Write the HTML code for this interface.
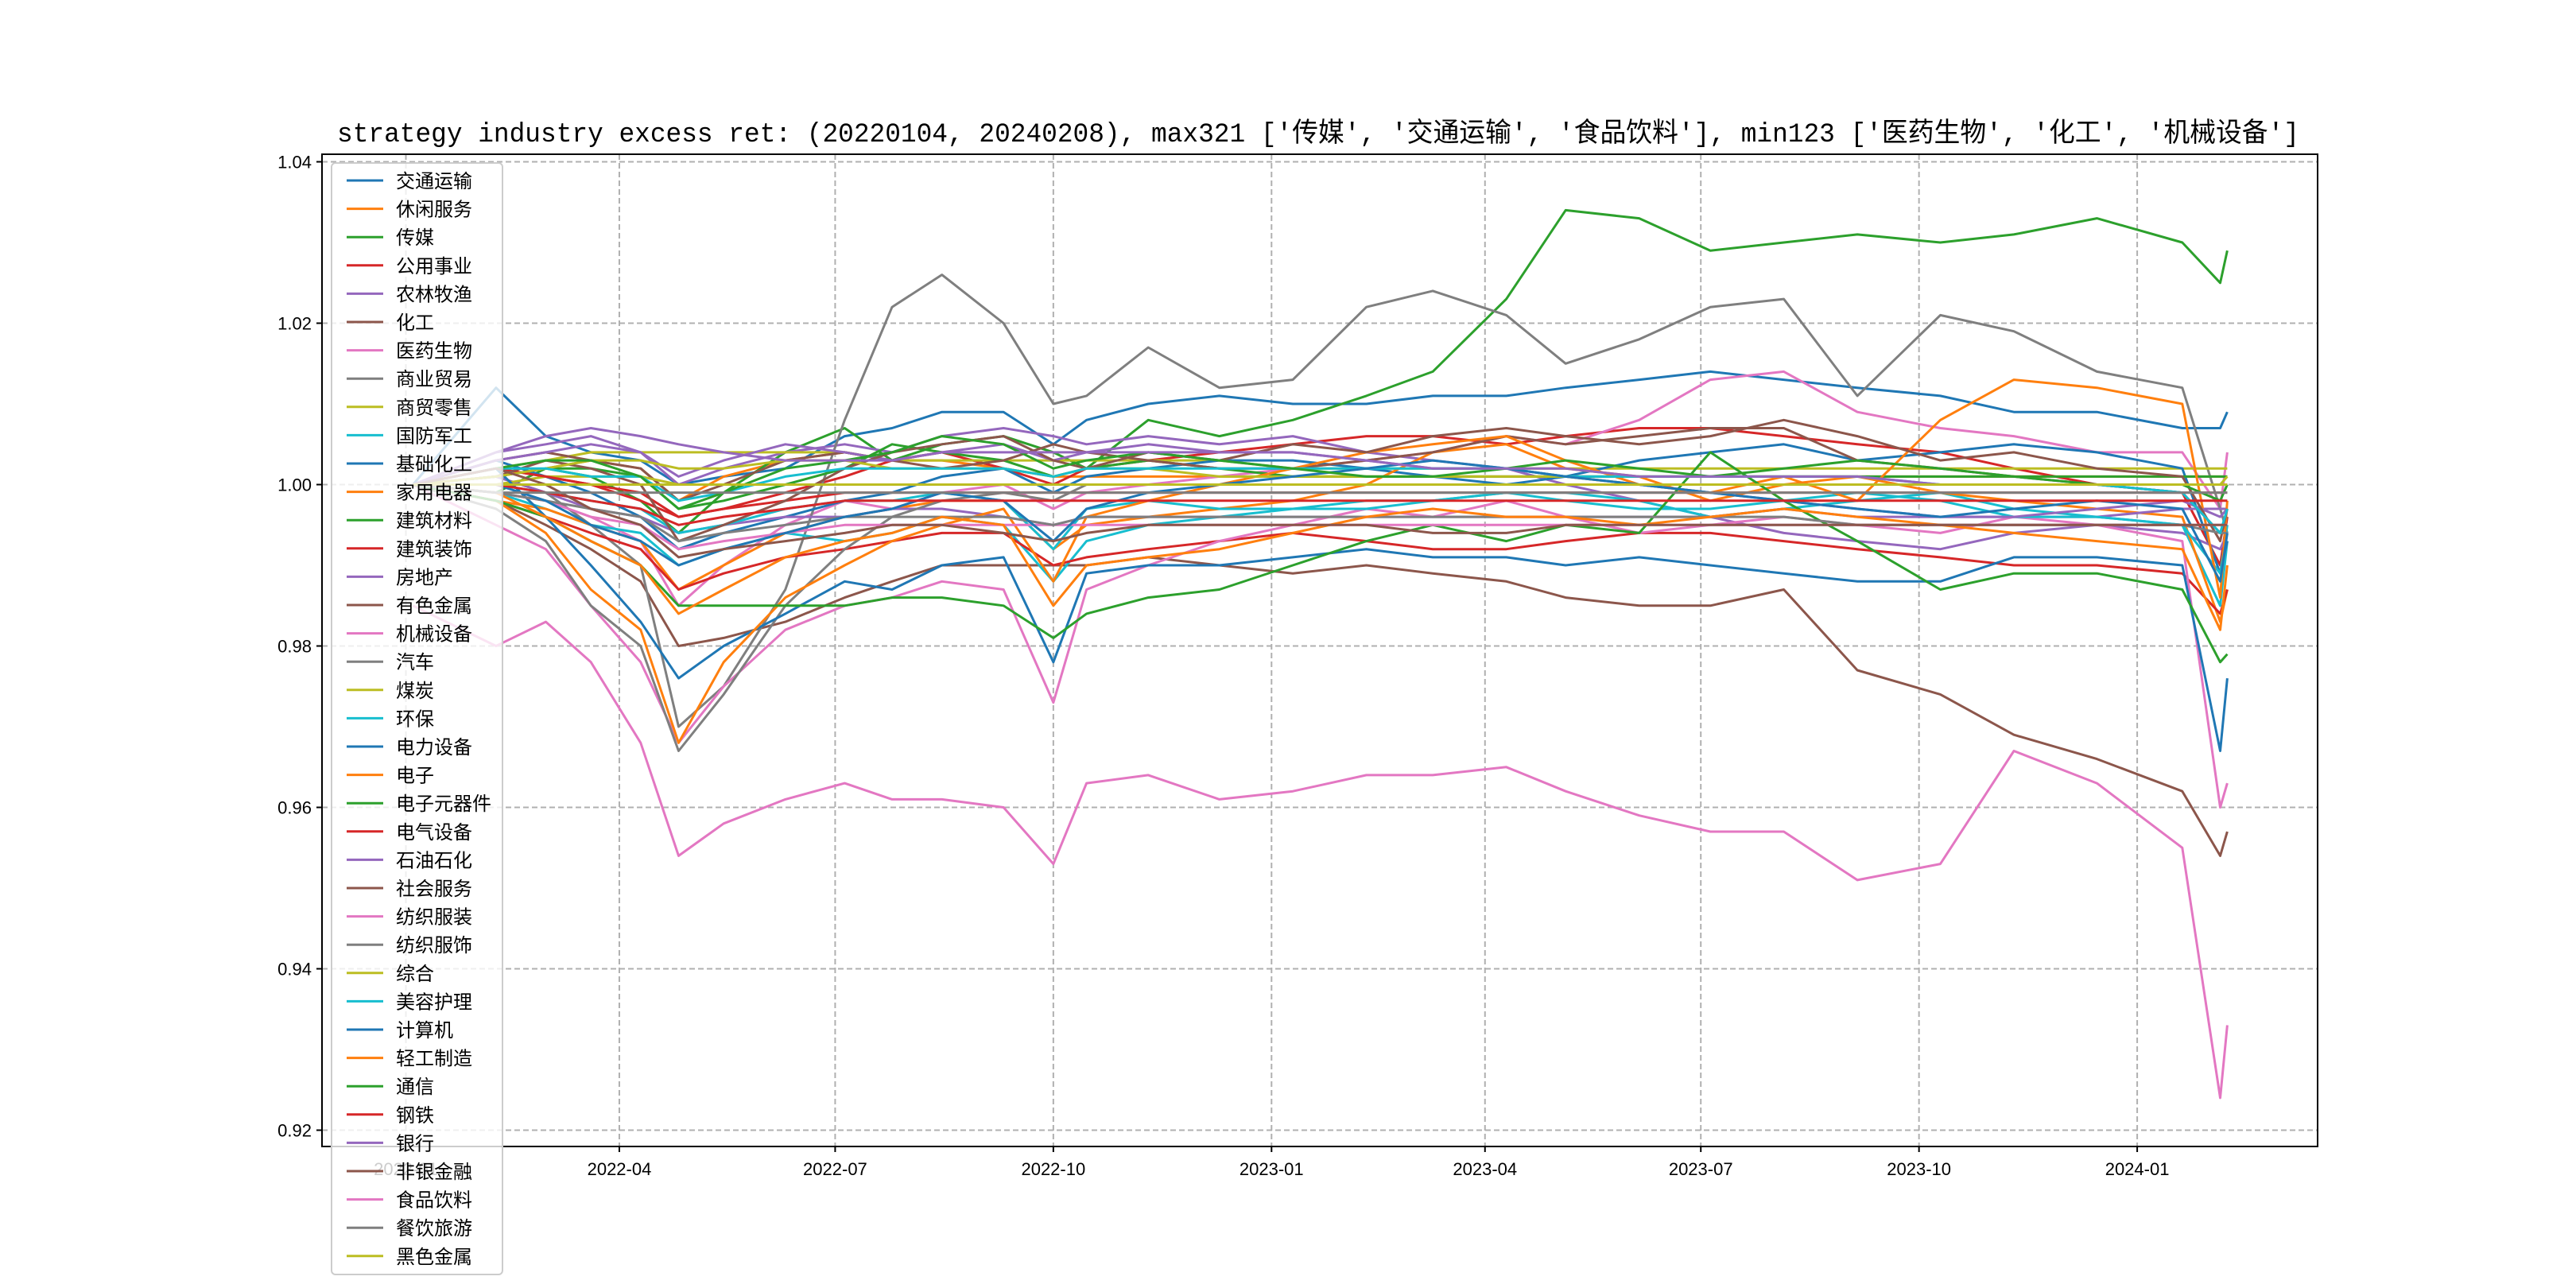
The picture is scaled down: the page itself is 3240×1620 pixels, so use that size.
<!DOCTYPE html>
<html><head><meta charset="utf-8"><style>
html,body{margin:0;padding:0;background:#fff;}
svg{display:block;}
text{font-family:"Liberation Sans","Noto Sans CJK SC",sans-serif;}
</style></head><body>
<svg id="chart" width="3240" height="1620" viewBox="0 0 3240 1620" xmlns="http://www.w3.org/2000/svg">
<rect x="0" y="0" width="3240" height="1620" fill="#fff"/>
<text x="424" y="178" font-size="34" textLength="2468" lengthAdjust="spacingAndGlyphs" style="font-family:'Liberation Mono','Noto Sans CJK SC',monospace">strategy industry excess ret: (20220104, 20240208), max321 ['传媒', '交通运输', '食品饮料'], min123 ['医药生物', '化工', '机械设备']</text>
<defs><clipPath id="plotclip"><rect x="405" y="194" width="2510" height="1248"/></clipPath></defs>
<g id="grid"></g>
<g id="series" clip-path="url(#plotclip)"></g>
<rect x="405" y="194" width="2510" height="1248" fill="none" stroke="#000" stroke-width="2"/>
<g id="axes"></g>
<g id="legend"></g>
</svg>
<script>
const dates = ["2022-01-04","2022-02-08","2022-03-01","2022-03-20","2022-04-10","2022-04-26","2022-05-15","2022-06-10","2022-07-05","2022-07-25","2022-08-15","2022-09-10","2022-10-01","2022-10-15","2022-11-10","2022-12-10","2023-01-10","2023-02-10","2023-03-10","2023-04-10","2023-05-05","2023-06-05","2023-07-05","2023-08-05","2023-09-05","2023-10-10","2023-11-10","2023-12-15","2024-01-20","2024-02-05","2024-02-08"];
const names = ["交通运输","休闲服务","传媒","公用事业","农林牧渔","化工","医药生物","商业贸易","商贸零售","国防军工","基础化工","家用电器","建筑材料","建筑装饰","房地产","有色金属","机械设备","汽车","煤炭","环保","电力设备","电子","电子元器件","电气设备","石油石化","社会服务","纺织服装","纺织服饰","综合","美容护理","计算机","轻工制造","通信","钢铁","银行","非银金融","食品饮料","餐饮旅游","黑色金属"];
const yTicks = [0.92,0.94,0.96,0.98,1.00,1.02,1.04];
const yTickLabels = ["0.92","0.94","0.96","0.98","1.00","1.02","1.04"];
const xTicks = ["2022-01-01","2022-04-01","2022-07-01","2022-10-01","2023-01-01","2023-04-01","2023-07-01","2023-10-01","2024-01-01"];
const xTickLabels = ["2022-01","2022-04","2022-07","2022-10","2023-01","2023-04","2023-07","2023-10","2024-01"];
const s00 = [1,1.012,1.006,1.004,1.003,1.000,1.001,1.002,1.006,1.007,1.009,1.009,1.005,1.008,1.010,1.011,1.010,1.010,1.011,1.011,1.012,1.013,1.014,1.013,1.012,1.011,1.009,1.009,1.007,1.007,1.009];
const s01 = [1,1.001,1.002,1.003,1.002,0.998,1.001,1.003,1.004,1.003,1.003,1.002,1.001,1.001,1.001,1.001,1.001,1.001,1.001,1.001,1.001,1.001,1.001,1.001,1.001,1.001,1.001,1.001,1.001,1.001,1.001];
const s02 = [1,0.999,1.002,1.001,0.998,0.994,0.999,1.004,1.007,1.003,1.005,1.006,1.004,1.002,1.008,1.006,1.008,1.011,1.014,1.023,1.034,1.033,1.029,1.030,1.031,1.030,1.031,1.033,1.030,1.025,1.029];
const s03 = [1,1.002,1.001,1.000,0.998,0.996,0.997,0.999,1.001,1.003,1.004,1.002,1.000,1.002,1.003,1.004,1.005,1.006,1.006,1.005,1.006,1.007,1.007,1.006,1.005,1.004,1.002,1.000,0.999,0.990,0.996];
const s04 = [1,1.004,1.005,1.006,1.004,1.000,1.002,1.004,1.005,1.004,1.006,1.007,1.006,1.005,1.006,1.005,1.006,1.004,1.003,1.002,1.000,0.998,0.996,0.994,0.993,0.992,0.994,0.995,0.994,0.992,0.994];
const s05 = [1,0.998,0.995,0.992,0.988,0.980,0.981,0.983,0.986,0.988,0.990,0.990,0.990,0.990,0.991,0.990,0.989,0.990,0.989,0.988,0.986,0.985,0.985,0.987,0.977,0.974,0.969,0.966,0.962,0.954,0.957];
const s06 = [1,0.999,0.998,0.996,0.993,0.985,0.990,0.995,0.998,0.997,0.999,1.000,0.997,0.999,1.000,1.001,1.002,1.003,1.004,1.006,1.005,1.008,1.013,1.014,1.009,1.007,1.006,1.004,1.004,0.997,1.004];
const s07 = [1,1.001,0.999,0.995,0.990,0.970,0.975,0.987,1.008,1.022,1.026,1.020,1.010,1.011,1.017,1.012,1.013,1.022,1.024,1.021,1.015,1.018,1.022,1.023,1.011,1.021,1.019,1.014,1.012,0.997,0.994];
const s08 = [1,1.002,1.003,1.004,1.004,1.004,1.004,1.004,1.004,1.003,1.003,1.003,1.003,1.003,1.003,1.003,1.002,1.002,1.002,1.002,1.002,1.002,1.002,1.002,1.002,1.002,1.002,1.002,1.002,1.002,1.002];
const s09 = [1,0.999,0.997,0.995,0.994,0.990,0.992,0.994,0.993,0.994,0.996,0.995,0.988,0.993,0.995,0.996,0.997,0.998,0.998,0.999,0.999,0.998,0.996,0.997,0.998,0.999,0.997,0.996,0.995,0.985,0.993];
const s10 = [1,1.003,1.001,0.999,0.996,0.992,0.994,0.996,0.998,0.999,1.001,1.002,0.999,1.001,1.002,1.003,1.003,1.002,1.001,1.000,1.001,1.003,1.004,1.005,1.003,1.004,1.005,1.004,1.002,0.989,0.993];
const s11 = [1,0.998,0.997,0.995,0.993,0.987,0.990,0.994,0.996,0.997,0.998,0.998,0.992,0.995,0.996,0.997,0.998,1.000,1.004,1.005,1.002,1.001,0.998,1.000,1.001,0.999,0.998,0.997,0.996,0.983,0.987];
const s12 = [1,1.001,1.002,1.002,1.001,0.997,0.998,1.000,1.002,1.005,1.004,1.003,1.001,1.002,1.003,1.002,1.001,1.001,1.001,1.001,1.001,1.001,1.001,1.001,1.001,1.001,1.001,1.001,1.001,1.001,1.001];
const s13 = [1,0.998,0.996,0.994,0.992,0.987,0.989,0.991,0.992,0.993,0.994,0.994,0.990,0.991,0.992,0.993,0.994,0.993,0.992,0.992,0.993,0.994,0.994,0.993,0.992,0.991,0.990,0.990,0.989,0.984,0.987];
const s14 = [1,1.001,0.999,0.997,0.996,0.994,0.995,0.996,0.996,0.997,0.997,0.996,0.995,0.996,0.996,0.996,0.996,0.996,0.996,0.996,0.996,0.996,0.996,0.997,0.996,0.996,0.996,0.996,0.997,0.997,0.997];
const s15 = [1,1.003,1.004,1.003,1.002,0.998,1.000,1.003,1.004,1.003,1.002,1.003,1.005,1.004,1.003,1.002,1.002,1.003,1.004,1.006,1.005,1.006,1.007,1.007,1.003,1.002,1.001,1.000,0.999,0.994,0.996];
const s16 = [1,0.995,0.992,0.985,0.978,0.968,0.975,0.982,0.985,0.986,0.988,0.987,0.973,0.987,0.990,0.993,0.995,0.997,0.996,0.998,0.996,0.994,0.995,0.996,0.995,0.994,0.996,0.995,0.993,0.960,0.963];
const s17 = [1,0.997,0.993,0.985,0.980,0.967,0.974,0.985,0.992,0.996,0.998,0.999,0.998,1.000,1.000,1.000,1.000,1.000,1.000,1.000,1.000,1.000,1.000,1.000,1.000,1.000,1.000,1.000,1.000,1.000,1.000];
const s18 = [1,1.000,1.001,1.001,1.001,1.000,1.000,1.000,1.000,1.000,1.000,1.000,1.000,1.000,1.000,1.000,1.000,1.000,1.000,1.000,1.000,1.000,1.000,1.000,1.000,1.000,1.000,1.000,1.000,1.000,1.000];
const s19 = [1,1.000,0.999,0.998,0.997,0.994,0.995,0.997,0.998,0.998,0.999,0.998,0.992,0.997,0.998,0.997,0.997,0.997,0.998,0.999,0.998,0.997,0.997,0.998,0.999,0.998,0.996,0.996,0.995,0.989,0.995];
const s20 = [1,1.002,0.996,0.990,0.983,0.976,0.980,0.984,0.988,0.987,0.990,0.991,0.978,0.989,0.990,0.990,0.991,0.992,0.991,0.991,0.990,0.991,0.990,0.989,0.988,0.988,0.991,0.991,0.990,0.967,0.976];
const s21 = [1,0.998,0.994,0.987,0.982,0.968,0.978,0.986,0.990,0.993,0.995,0.997,0.988,0.996,0.998,1.000,1.002,1.004,1.005,1.006,1.003,1.000,0.999,1.001,0.998,1.008,1.013,1.012,1.010,0.986,0.998];
const s22 = [1,0.998,0.996,0.993,0.990,0.985,0.985,0.985,0.985,0.986,0.986,0.985,0.981,0.984,0.986,0.987,0.990,0.993,0.995,0.993,0.995,0.994,1.004,0.998,0.993,0.987,0.989,0.989,0.987,0.978,0.979];
const s23 = [1,1.002,1.001,1.000,0.999,0.996,0.997,0.998,0.999,0.999,0.999,0.999,0.999,0.999,0.999,0.999,0.999,0.999,0.999,0.999,0.999,0.999,0.999,0.999,0.999,0.999,0.999,0.999,0.999,0.999,0.999];
const s24 = [1,1.003,1.004,1.005,1.004,1.001,1.003,1.005,1.004,1.003,1.004,1.005,1.003,1.004,1.005,1.004,1.004,1.003,1.002,1.002,1.001,1.000,0.999,0.998,0.997,0.996,0.996,0.997,0.998,0.996,0.997];
const s25 = [1,1.001,1.003,1.002,1.000,0.993,0.995,0.998,1.002,1.004,1.005,1.006,1.003,1.002,1.004,1.003,1.005,1.004,1.006,1.007,1.006,1.005,1.006,1.008,1.006,1.003,1.004,1.002,1.001,0.993,0.997];
const s26 = [1,0.999,0.998,0.996,0.995,0.992,0.993,0.994,0.995,0.995,0.995,0.995,0.995,0.995,0.995,0.995,0.995,0.995,0.995,0.995,0.995,0.995,0.995,0.995,0.995,0.995,0.995,0.995,0.995,0.995,0.995];
const s27 = [1,0.999,0.998,0.997,0.996,0.993,0.994,0.995,0.996,0.996,0.996,0.996,0.995,0.996,0.996,0.996,0.996,0.996,0.996,0.996,0.996,0.996,0.996,0.996,0.995,0.995,0.995,0.995,0.995,0.994,0.994];
const s28 = [1,1.001,1.002,1.003,1.003,1.002,1.002,1.003,1.003,1.002,1.002,1.002,1.001,1.002,1.002,1.001,1.001,1.001,1.001,1.001,1.001,1.000,1.000,1.000,1.000,1.000,1.000,1.000,1.000,1.000,1.001];
const s29 = [1,1.002,1.002,1.001,1.001,0.998,0.999,1.001,1.002,1.002,1.002,1.002,1.001,1.002,1.002,1.002,1.002,1.002,1.002,1.002,1.001,1.001,1.001,1.001,1.001,1.000,1.000,1.000,0.999,0.994,0.997];
const s30 = [1,1.000,0.998,0.995,0.993,0.990,0.992,0.994,0.996,0.997,0.999,0.998,0.993,0.997,0.999,1.000,1.001,1.002,1.003,1.002,1.001,1.000,0.999,0.998,0.997,0.996,0.997,0.998,0.997,0.988,0.994];
const s31 = [1,0.999,0.996,0.993,0.990,0.984,0.987,0.991,0.993,0.994,0.996,0.995,0.985,0.990,0.991,0.992,0.994,0.996,0.997,0.996,0.996,0.995,0.996,0.997,0.996,0.995,0.994,0.993,0.992,0.982,0.990];
const s32 = [1,1.002,1.003,1.003,1.001,0.997,0.999,1.002,1.003,1.004,1.006,1.005,1.002,1.003,1.004,1.003,1.002,1.001,1.001,1.002,1.003,1.002,1.001,1.002,1.003,1.002,1.001,1.000,1.000,0.998,1.000];
const s33 = [1,1.000,0.999,0.998,0.997,0.995,0.996,0.997,0.998,0.998,0.998,0.998,0.998,0.998,0.998,0.998,0.998,0.998,0.998,0.998,0.998,0.998,0.998,0.998,0.998,0.998,0.998,0.998,0.998,0.998,0.998];
const s34 = [1,1.004,1.006,1.007,1.006,1.005,1.004,1.003,1.003,1.003,1.004,1.004,1.004,1.004,1.004,1.004,1.004,1.003,1.002,1.002,1.002,1.001,1.001,1.001,1.001,1.000,1.000,1.000,1.000,1.000,1.000];
const s35 = [1,1.002,1.000,0.997,0.995,0.991,0.992,0.993,0.994,0.995,0.995,0.994,0.993,0.994,0.995,0.995,0.995,0.995,0.994,0.994,0.995,0.995,0.995,0.995,0.995,0.995,0.995,0.995,0.995,0.995,0.995];
const s36 = [0.985,0.980,0.983,0.978,0.968,0.954,0.958,0.961,0.963,0.961,0.961,0.960,0.953,0.963,0.964,0.961,0.962,0.964,0.964,0.965,0.962,0.959,0.957,0.957,0.951,0.953,0.967,0.963,0.955,0.924,0.933];
const s37 = [1,0.999,0.999,0.999,0.999,0.999,0.999,0.999,0.999,0.999,0.999,0.999,0.999,0.999,0.999,0.999,0.999,0.999,0.999,0.999,0.999,0.999,0.999,0.999,0.999,0.999,0.999,0.999,0.999,0.999,0.999];
const s38 = [1,1.000,1.000,1.000,1.000,1.000,1.000,1.000,1.000,1.000,1.000,1.000,1.000,1.000,1.000,1.000,1.000,1.000,1.000,1.000,1.000,1.000,1.000,1.000,1.000,1.000,1.000,1.000,1.000,1.000,1.000];
const seriesValues = [s00,s01,s02,s03,s04,s05,s06,s07,s08,s09,s10,s11,s12,s13,s14,s15,s16,s17,s18,s19,s20,s21,s22,s23,s24,s25,s26,s27,s28,s29,s30,s31,s32,s33,s34,s35,s36,s37,s38];

const palette = ["#1f77b4","#ff7f0e","#2ca02c","#d62728","#9467bd","#8c564b","#e377c2","#7f7f7f","#bcbd22","#17becf"];
const NS = "http://www.w3.org/2000/svg";
const base = Date.UTC(2022,0,1);
function dayOf(s){const p=s.split("-");return (Date.UTC(+p[0],+p[1]-1,+p[2])-base)/86400000;}
function xScale(s){return 510.5 + dayOf(s)*2.983;}
function yScale(v){return 609.5 - (v-1)*10150;}
function mk(tag, attrs){const e=document.createElementNS(NS,tag);for(const k in attrs)e.setAttribute(k,attrs[k]);return e;}

const grid=document.getElementById("grid"), axes=document.getElementById("axes");
yTicks.forEach((t,i)=>{
  const y=yScale(t);
  const gl=mk("line",{x1:405,x2:2915,y1:y,y2:y,stroke:"#b0b0b0","stroke-width":2,"stroke-dasharray":"7,4"});
  
  
  grid.appendChild(gl);
  const tk=mk("line",{x1:398,x2:405,y1:y,y2:y,stroke:"#000","stroke-width":2});
  
  
  axes.appendChild(tk);
  const tx=mk("text",{x:392,y:y+8,"font-size":22,"text-anchor":"end",fill:"#000"});
  tx.textContent=yTickLabels[i];
  
  
  axes.appendChild(tx);
});
xTicks.forEach((t,i)=>{
  const x=xScale(t);
  const gl=mk("line",{x1:x,x2:x,y1:194,y2:1442,stroke:"#b0b0b0","stroke-width":2,"stroke-dasharray":"7,4"});
  
  
  grid.appendChild(gl);
  const tk=mk("line",{x1:x,x2:x,y1:1442,y2:1449,stroke:"#000","stroke-width":2});
  
  
  axes.appendChild(tk);
  const tx=mk("text",{x:x,y:1478,"font-size":22,"text-anchor":"middle",fill:"#000"});
  tx.textContent=xTickLabels[i];
  
  
  axes.appendChild(tx);
});

const sg=document.getElementById("series");
seriesValues.forEach((vals,i)=>{
  const pts=vals.map((v,j)=>xScale(dates[j]).toFixed(1)+","+yScale(v).toFixed(1)).join(" ");
  const pl=mk("polyline",{points:pts,fill:"none",stroke:palette[i%10],"stroke-width":3,"stroke-linejoin":"round"});
  
  
  sg.appendChild(pl);
});

const lg=document.getElementById("legend");
const box=mk("rect",{x:417,y:205,width:215,height:1398,rx:5,fill:"#fff","fill-opacity":0.8,stroke:"#cccccc","stroke-width":2});


lg.appendChild(box);
names.forEach((n,i)=>{
  const y=227+i*35.6;
  const ln=mk("line",{x1:436,x2:482,y1:y,y2:y,stroke:palette[i%10],"stroke-width":3});
  
  
  lg.appendChild(ln);
  const tx=mk("text",{x:498,y:y+9,"font-size":24,fill:"#000"});
  tx.textContent=n;
  
  
  lg.appendChild(tx);
});
</script>
</body></html>
